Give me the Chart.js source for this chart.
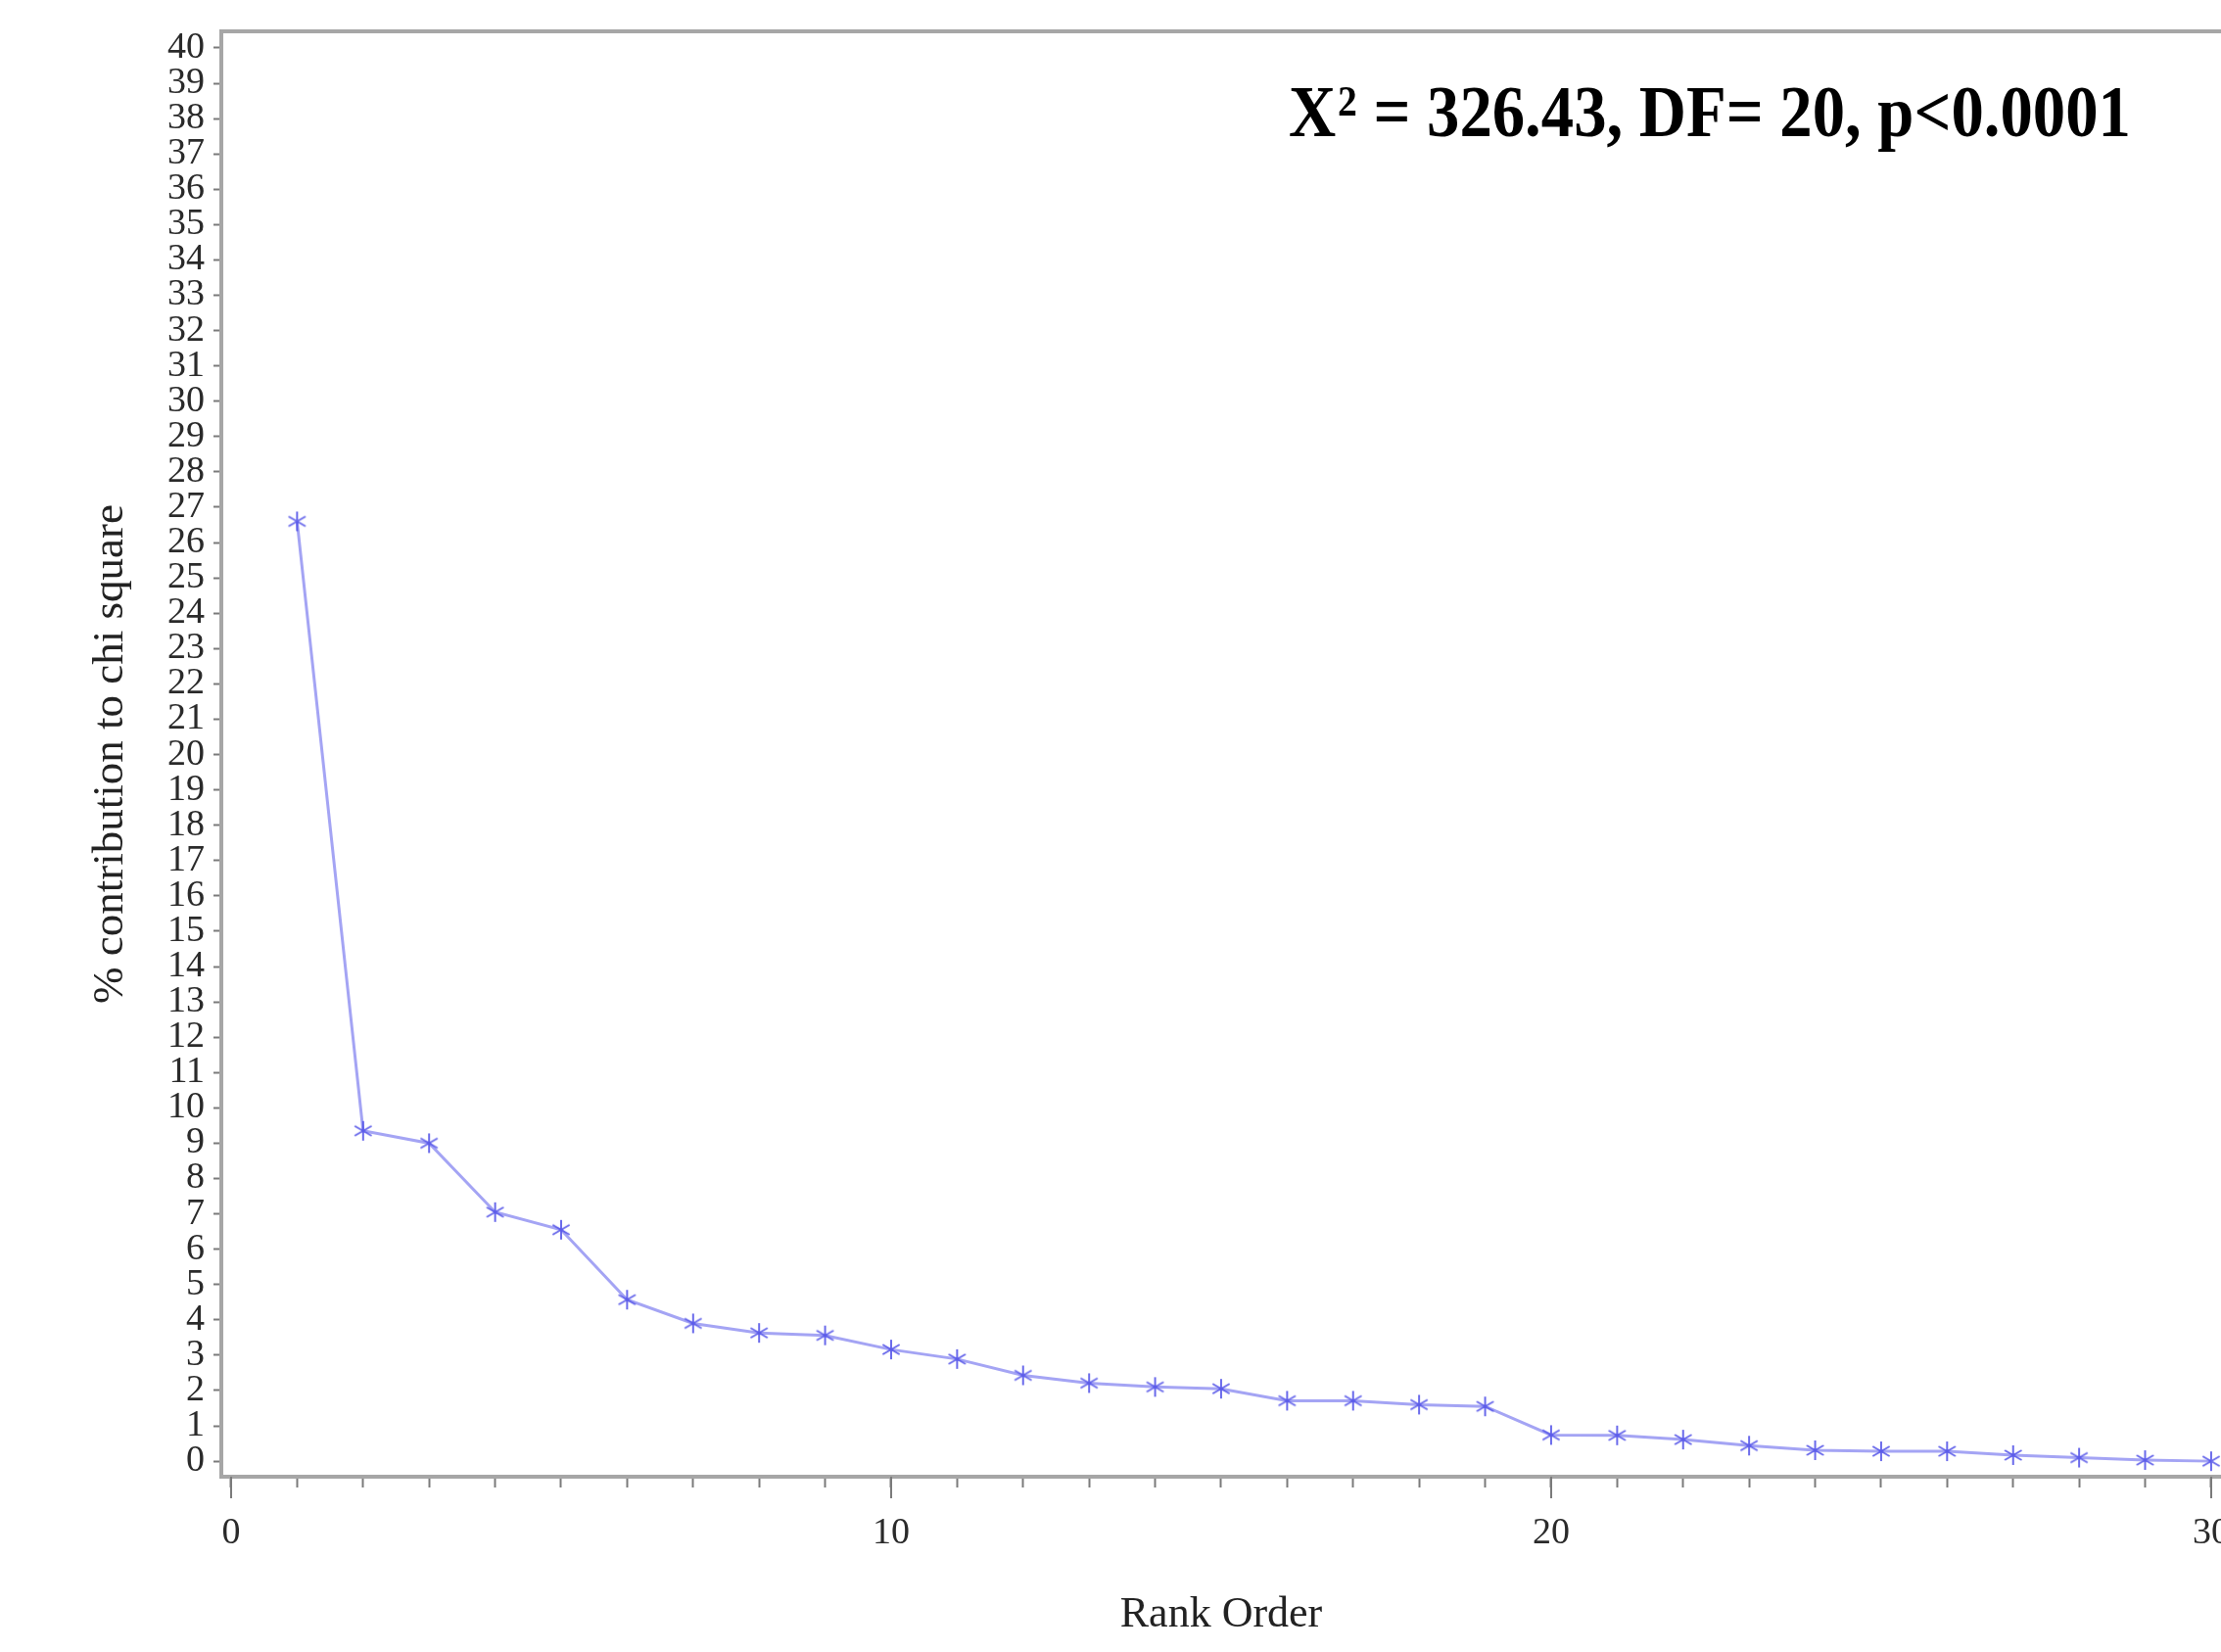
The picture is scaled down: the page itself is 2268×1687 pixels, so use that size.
<!DOCTYPE html>
<html>
<head>
<meta charset="utf-8">
<title>% contribution to chi square by rank order</title>
<script src="https://cdn.jsdelivr.net/npm/chart.js"></script>
<style>
  html, body { margin: 0; padding: 0; background: #fff; overflow: hidden; }
  #wrap { width: 2268px; height: 1687px; overflow: hidden; }
</style>
</head>
<body>
<div id="wrap"><canvas id="chiChart" width="2268" height="1687"></canvas></div>
<script>
const rankOrder = [1, 2, 3, 4, 5, 6, 7, 8, 9, 10, 11, 12, 13, 14, 15,
                   16, 17, 18, 19, 20, 21, 22, 23, 24, 25, 26, 27, 28, 29, 30];
const contribution = [26.6, 9.35, 9.0, 7.05, 6.55, 4.57, 3.9, 3.63, 3.56, 3.16,
                      2.89, 2.43, 2.21, 2.1, 2.05, 1.71, 1.71, 1.6, 1.55, 0.74,
                      0.73, 0.61, 0.44, 0.31, 0.28, 0.28, 0.17, 0.1, 0.03, 0.0];
const yTickValues = [0, 1, 2, 3, 4, 5, 6, 7, 8, 9, 10, 11, 12, 13, 14, 15, 16, 17, 18, 19, 20,
                     21, 22, 23, 24, 25, 26, 27, 28, 29, 30, 31, 32, 33, 34, 35, 36, 37, 38, 39, 40];
const xTickValues = [0, 1, 2, 3, 4, 5, 6, 7, 8, 9, 10, 11, 12, 13, 14, 15,
                     16, 17, 18, 19, 20, 21, 22, 23, 24, 25, 26, 27, 28, 29, 30];
const xLabelValues = [0, 10, 20, 30];
const statText = ' = 326.43, DF= 20, p<0.0001';

const serif = '"Times New Roman", "Liberation Serif", serif';
const axisGray = '#a6a6a6';
const tickGray = '#7a7a7a';

// SAS style asterisk marker
function makeAsterisk(size, color) {
    let c = document.createElement('canvas');
    c.width = size;
    c.height = size;
    let g = c.getContext('2d');
    let m = size / 2, r = size / 2 - 1;
    g.strokeStyle = color;
    g.lineWidth = 2;
    g.beginPath();
    [90, 30, 150].forEach(function (a) {
        let rad = a * Math.PI / 180;
        let dx = Math.cos(rad) * r, dy = Math.sin(rad) * r;
        g.moveTo(m - dx, m - dy);
        g.lineTo(m + dx, m + dy);
    });
    g.stroke();
    return c;
}

// top frame line + long major ticks on x axis
const frame = {
    id: 'frame',
    afterDraw(chart) {
        let ctx = chart.ctx, area = chart.chartArea, x = chart.scales.x;
        ctx.save();
        ctx.strokeStyle = axisGray;
        ctx.lineWidth = 4;
        ctx.beginPath();
        ctx.moveTo(area.left - 2, area.top);
        ctx.lineTo(area.right, area.top);
        ctx.stroke();
        ctx.strokeStyle = tickGray;
        ctx.lineWidth = 2;
        ctx.beginPath();
        xLabelValues.forEach(function (v) {
            let px = Math.round(x.getPixelForValue(v));
            ctx.moveTo(px, area.bottom);
            ctx.lineTo(px, area.bottom + 22);
        });
        ctx.stroke();
        ctx.restore();
    }
};

// chi square annotation in the top right
const annotation = {
    id: 'annotation',
    afterDraw(chart) {
        let ctx = chart.ctx;
        let big = 'bold 74px ' + serif, small = 'bold 44px ' + serif;
        ctx.save();
        ctx.font = big;
        let wX = ctx.measureText('X').width;
        let wRest = ctx.measureText(statText).width;
        ctx.font = small;
        let w2 = ctx.measureText('2').width;
        let sx = 858 / (wX + w2 + wRest);
        ctx.translate(1316, 139);
        ctx.scale(sx, 1);
        ctx.fillStyle = '#000';
        ctx.textBaseline = 'alphabetic';
        ctx.font = big;
        ctx.fillText('X', 0, 0);
        ctx.font = small;
        ctx.fillText('2', wX + 2, -21);
        ctx.font = big;
        ctx.fillText(statText, wX + w2 + 2, 0);
        ctx.restore();
    }
};

let ctx = document.getElementById('chiChart').getContext('2d');
new Chart(ctx, {
    type: 'line',
    data: {
        datasets: [{
            label: '% contribution to chi square',
            data: rankOrder.map(function (r, i) { return { x: r, y: contribution[i] }; }),
            borderColor: '#a4a4f4',
            borderWidth: 3,
            tension: 0,
            pointStyle: makeAsterisk(22, 'rgba(80, 80, 232, 0.85)'),
            pointRadius: 11,
            pointHoverRadius: 11
        }]
    },
    options: {
        responsive: false,
        animation: false,
        layout: { autoPadding: false, padding: { top: 32, left: 0, right: 0, bottom: 0 } },
        plugins: {
            legend: { display: false },
            tooltip: { enabled: false }
        },
        scales: {
            x: {
                type: 'linear',
                min: -0.148,
                max: 30.15,
                beforeUpdate: function (s) {
                    // the plot runs off the right edge, so the last label may be cut
                    let calc = s._calculatePadding;
                    if (calc && !s._noRightPad) {
                        s._noRightPad = true;
                        s._calculatePadding = function () {
                            calc.apply(this, arguments);
                            this.paddingRight = 0;
                        };
                    }
                },
                afterBuildTicks: function (s) {
                    s.ticks = xTickValues.map(function (v) { return { value: v }; });
                },
                afterFit: function (s) {
                    s.height = 179;
                    s.paddingRight = 0;
                },
                ticks: {
                    autoSkip: false,
                    maxRotation: 0,
                    padding: 24,
                    color: '#2a2a2a',
                    font: { family: serif, size: 38 },
                    callback: function (v) { return xLabelValues.includes(v) ? String(v) : ''; }
                },
                grid: {
                    drawOnChartArea: false,
                    drawTicks: true,
                    tickLength: 11,
                    tickWidth: 2,
                    tickColor: tickGray
                },
                border: { color: axisGray, width: 4 },
                title: {
                    display: true,
                    text: 'Rank Order',
                    color: '#222',
                    font: { family: serif, size: 44 },
                    padding: { top: 0, bottom: 11 }
                }
            },
            y: {
                type: 'linear',
                min: -0.44,
                max: 40.47,
                afterBuildTicks: function (s) {
                    s.ticks = yTickValues.map(function (v) { return { value: v }; });
                },
                afterFit: function (s) {
                    s.width = 226;
                },
                ticks: {
                    autoSkip: false,
                    padding: 9,
                    color: '#2a2a2a',
                    font: { family: serif, size: 38 }
                },
                grid: {
                    drawOnChartArea: false,
                    drawTicks: true,
                    tickLength: 8,
                    tickWidth: 2,
                    tickColor: tickGray
                },
                border: { color: axisGray, width: 4 },
                title: {
                    display: true,
                    text: '% contribution to chi square',
                    color: '#222',
                    font: { family: serif, size: 45 },
                    padding: { top: 86, bottom: 0 }
                }
            }
        }
    },
    plugins: [frame, annotation]
});
</script>
</body>
</html>
